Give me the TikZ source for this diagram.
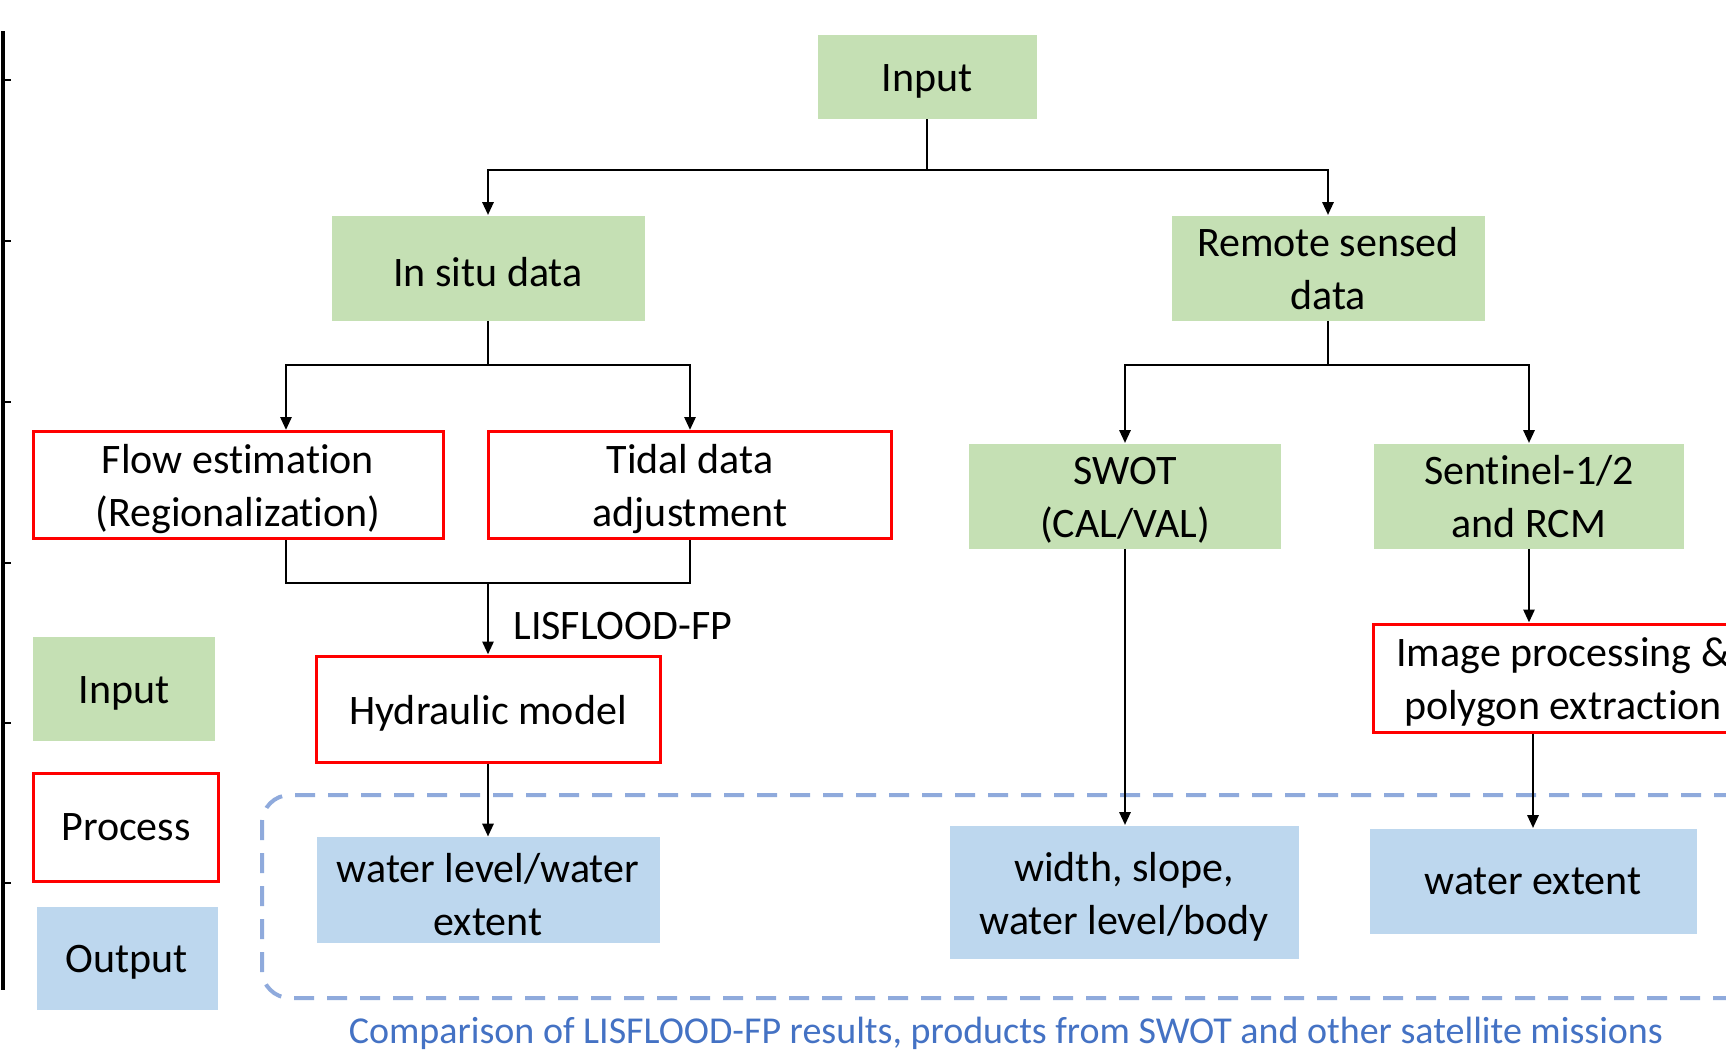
\documentclass[tikz,border=0pt]{standalone}
\usepackage{fontspec}
\setmainfont{Carlito}[Ligatures=NoCommon]
\usetikzlibrary{arrows.meta}
\definecolor{ingreen}{HTML}{C5E0B4}
\definecolor{outblue}{HTML}{BDD7EE}
\definecolor{dashblue}{HTML}{8FAADC}
\definecolor{capblue}{HTML}{4472C4}
\tikzset{
  base/.style={align=center, inner sep=0pt, font=\fontsize{21}{26.5}\selectfont},
  boxtext/.style={label={[base, yshift=-2.2pt]center:{#1}}},
  boxtexthi/.style={label={[base, yshift=-0.2pt]center:{#1}}},
  inbox/.style={base, fill=ingreen},
  procbox/.style={base, draw=red, line width=1.5pt, fill=white},
  outbox/.style={base, fill=outblue},
  conn/.style={line width=1.4pt, black},
  arr/.style={conn, -{Triangle[length=6.5pt,width=5.5pt]}},
}
\begin{document}
\begin{tikzpicture}[x=0.5pt, y=-0.5pt]
\useasboundingbox (0,0) rectangle (1726,1062);
\clip (0,0) rectangle (1726,1062);
\fill[white] (0,0) rectangle (1726,1062);

% left axis fragment
\draw[line width=1.6pt] (3,31) -- (3,990);
\foreach \ty in {80,241,402,563,723,883} \draw[line width=1.3pt] (3,\ty) -- (11,\ty);

% dashed comparison region
\draw[dashblue, line width=2pt, dash pattern=on 10pt off 6.5pt, rounded corners=14pt] (1800,795) -- (262,795) -- (262,998) -- (1800,998);
\node[font=\fontsize{19}{23}\selectfont, text=capblue] (cap) at (1006,1033) {Comparison of LISFLOOD-FP results, products from SWOT and other satellite missions};

% nodes
\node[inbox, minimum width=109.5pt, minimum height=42pt, boxtext={Input}] (in) at (927,77) {};
\node[inbox, minimum width=156.5pt, minimum height=52.5pt, boxtext={In situ data}] (insitu) at (488,268) {};
\node[inbox, minimum width=156.5pt, minimum height=52.5pt, boxtexthi={Remote sensed\\data}] (remote) at (1328,268) {};
\node[procbox, minimum width=205pt, minimum height=53.5pt, boxtext={Flow estimation\\(Regionalization)}] (flow) at (238,485) {};
\node[procbox, minimum width=201.5pt, minimum height=53.5pt, boxtext={Tidal data\\adjustment}] (tidal) at (690,485) {};
\node[inbox, minimum width=156pt, minimum height=52.5pt, boxtext={SWOT\\(CAL/VAL)}] (swot) at (1125,496) {};
\node[inbox, minimum width=155pt, minimum height=52.5pt, boxtexthi={Sentinel-1/2\\and RCM}] (sent) at (1529,496) {};
\node[procbox, minimum width=172pt, minimum height=53pt, boxtext={Hydraulic model}] (hyd) at (488,709) {};
\node[outbox, minimum width=171.5pt, minimum height=53pt, boxtext={water level/water\\extent}] (wl) at (488,890) {};
\node[outbox, minimum width=174.5pt, minimum height=66.5pt, boxtext={width, slope,\\water level/body}] (wsw) at (1124,892) {};
\node[procbox, minimum width=190pt, minimum height=54pt, boxtext={Image processing \&\\polygon extraction}] (img) at (1563,678) {};
\node[outbox, minimum width=163.5pt, minimum height=52.5pt, boxtexthi={water extent}] (we) at (1533,881) {};
\node[base, anchor=west] (lis) at (513,626) {LISFLOOD-FP};

% legend
\node[inbox, minimum width=91pt, minimum height=52pt, boxtext={Input}] (lin) at (124,689) {};
\node[procbox, minimum width=92.5pt, minimum height=54pt, boxtexthi={Process}] (lproc) at (126,827) {};
\node[outbox, minimum width=90.5pt, minimum height=51.5pt, boxtext={Output}] (lout) at (127,958) {};

% junctions
\coordinate (j1) at (927,170);
\coordinate (j2) at (488,365);
\coordinate (j3) at (488,583);
\coordinate (j4) at (1328,365);

% connectors
\draw[conn] (in.south) -- (j1);
\draw[arr] (j1) -| (insitu.north);
\draw[arr] (j1) -| (remote.north);
\draw[conn] (insitu.south) -- (j2);
\draw[arr] (j2) -| ([xshift=24pt]flow.north);
\draw[arr] (j2) -| (tidal.north);
\draw[conn] ([xshift=24pt]flow.south) |- (j3) -| (tidal.south);
\draw[arr] (j3) -- (hyd.north);
\draw[arr] (hyd.south) -- (wl.north);
\draw[conn] (remote.south) -- (j4);
\draw[arr] (j4) -| (swot.north);
\draw[arr] (j4) -| (sent.north);
\draw[arr] (swot.south) -- (swot.south |- wsw.north);
\draw[arr] (sent.south) -- (sent.south |- img.north);
\draw[arr] (we.north |- img.south) -- (we.north);
\end{tikzpicture}
\end{document}
